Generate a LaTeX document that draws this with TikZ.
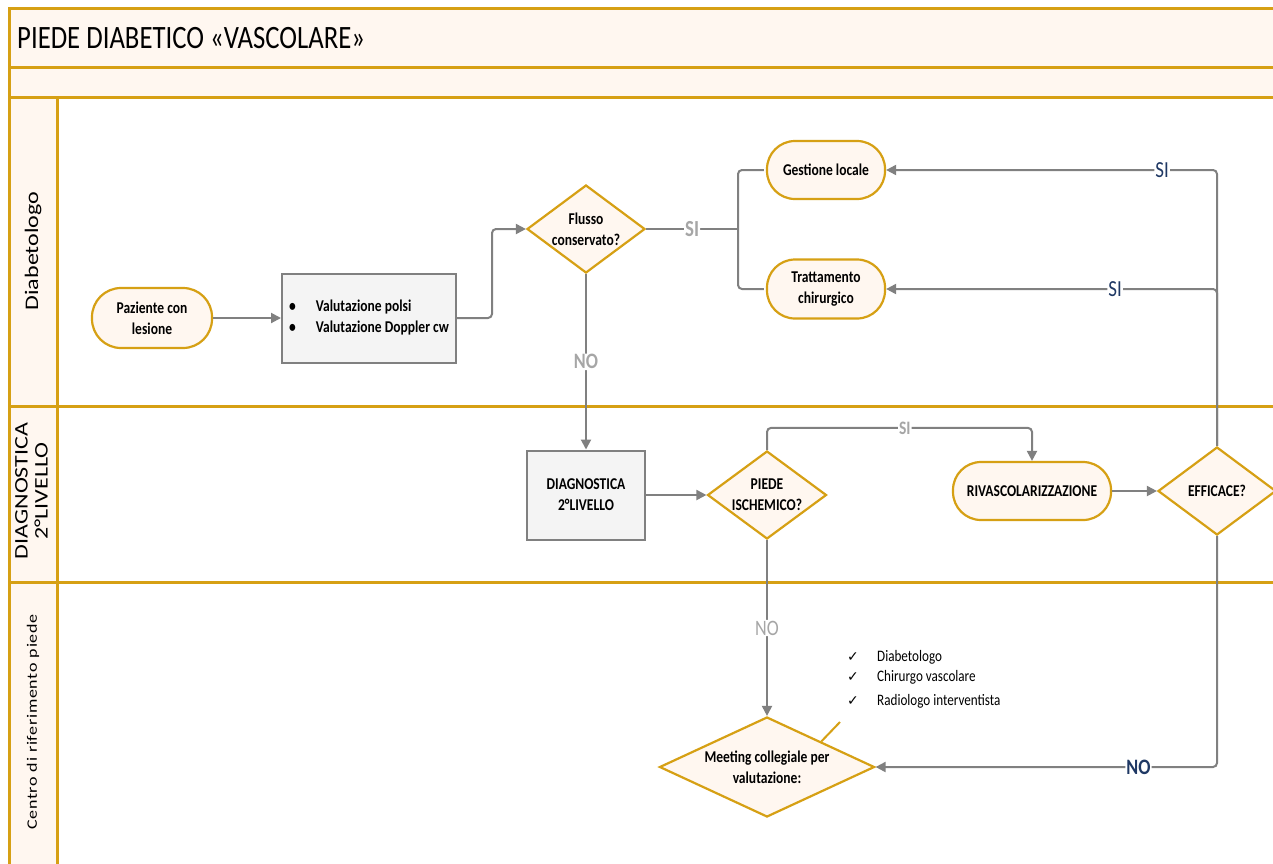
\documentclass[tikz,border=0pt]{standalone}
\usepackage{fontspec}
\setmainfont{Carlito}[FakeStretch=0.82]
\newfontfamily\plainfont{Carlito}
\newfontfamily\spacedfont{Carlito}[LetterSpace=4]
\newfontfamily\dejavu{DejaVu Sans}
\usetikzlibrary{shapes.geometric,arrows.meta}
\definecolor{gold}{RGB}{214,160,20}
\definecolor{cream}{RGB}{255,247,240}
\definecolor{boxgray}{RGB}{244,244,244}
\definecolor{linegray}{RGB}{128,128,128}
\definecolor{lblgray}{RGB}{166,166,166}
\definecolor{navy}{RGB}{31,56,100}
\begin{document}
\begin{tikzpicture}[x=1pt,y=-1pt,
  lane/.style={gold,line width=3pt},
  term/.style={draw=gold,fill=cream,line width=2.2pt,rounded corners=28pt,
    minimum width=118pt,minimum height=58pt,align=center,inner sep=0pt,
    font=\fontsize{16.5}{21}\selectfont\bfseries},
  gbox/.style={draw=linegray,fill=boxgray,line width=2pt,
    minimum width=118pt,minimum height=89pt,align=center,inner sep=0pt,
    font=\fontsize{16.5}{21}\selectfont\bfseries},
  dia/.style={diamond,draw=gold,fill=cream,line width=2.2pt,inner sep=0pt,
    align=center,font=\fontsize{16.5}{21}\selectfont\bfseries},
  conn/.style={linegray,line width=2pt,rounded corners=4pt},
  arr/.style={conn,-{Triangle[length=10pt,width=10pt]}},
  lblg/.style={fill=white,inner sep=1pt,text=lblgray,font=\fontsize{23}{23}\selectfont\bfseries},
  lbln/.style={fill=white,inner sep=1pt,text=navy,font=\fontsize{23}{23}\selectfont},
  chk/.style={anchor=base west,inner sep=0pt,font=\fontsize{16}{18}\selectfont}
]
\useasboundingbox (0,0) rectangle (1273,863);
% swimlane frame
\fill[white] (0,0) rectangle (1273,863);
\fill[cream] (9,8) rectangle (1285,97);
\fill[cream] (9,97) rectangle (57,870);
\draw[lane] (1285,8) -- (9,8) -- (9,870);
\draw[lane] (9,67) -- (1285,67);
\draw[lane] (9,97) -- (1285,97);
\draw[lane] (9,406) -- (1285,406);
\draw[lane] (9,582) -- (1285,582);
\draw[lane] (57,97) -- (57,870);
\node[anchor=base west,inner sep=0pt,font=\fontsize{32.6}{33}\selectfont] (title) at (17,48) {PIEDE DIABETICO «VASCOLARE»};
\node[rotate=90,inner sep=0pt] (l1) at (33,251) {\scalebox{1}[0.8]{\plainfont\fontsize{24}{24}\selectfont Diabetologo}};
\node[rotate=90,inner sep=0pt] (l2) at (33.5,491) {\scalebox{1}[0.8]{\plainfont\fontsize{24}{25}\selectfont\begin{tabular}{@{}c@{}}DIAGNOSTICA\\2°LIVELLO\end{tabular}}};
\node[rotate=90,inner sep=0pt] (l3) at (33,722) {\scalebox{1}[0.8]{\spacedfont\fontsize{18}{18}\selectfont Centro di riferimento piede}};

% nodes
\node[term,minimum width=120pt,minimum height=60pt,rounded corners=29pt] (paz) at (152,318) {Paziente con\\lesione};
\node[gbox,minimum width=174pt] (val) at (369,318) {\begin{tabular}{@{}l@{\hspace{20pt}}l@{}}\textbullet & Valutazione polsi\\ \textbullet & Valutazione Doppler cw\end{tabular}};
\node[dia,minimum width=118pt,minimum height=88pt,shape aspect=1.34] (flu) at (586,229) {Flusso\\conservato?};
\node[term] (gest) at (826,170) {Gestione locale};
\node[term,minimum height=59pt] (tratt) at (826,289) {Trattamento\\chirurgico};
\node[gbox] (diag) at (586,495) {DIAGNOSTICA\\2°LIVELLO};
\node[dia,minimum width=119pt,minimum height=88pt,shape aspect=1.35] (pied) at (767,495) {PIEDE\\ISCHEMICO?};
\node[term,minimum width=158pt] (riv) at (1032,491) {RIVASCOLARIZZAZIONE};
\node[dia,minimum width=118pt,minimum height=88pt,shape aspect=1.34] (eff) at (1217,491) {EFFICACE?};
\node[dia,minimum width=215pt,minimum height=100pt,shape aspect=2.15] (meet) at (767,767) {Meeting collegiale per\\valutazione:};

% checklist
\node[chk] (c1m) at (847,661) {\dejavu\fontsize{14}{16}\selectfont ✓};
\node[chk] (c1) at (877,661) {Diabetologo};
\node[chk] (c2m) at (847,681) {\dejavu\fontsize{14}{16}\selectfont ✓};
\node[chk] (c2) at (877,681) {Chirurgo vascolare};
\node[chk] (c3m) at (847,705) {\dejavu\fontsize{14}{16}\selectfont ✓};
\node[chk] (c3) at (877,705) {Radiologo interventista};
\coordinate (callout) at (840,722);
\draw[gold,line width=2pt] (meet.north east) -- (callout);

% connectors
\draw[arr] (paz.east) -- (val.west);
\draw[arr] (val.east) -- ++(35,0) |- (flu.west);
\draw[conn] (flu.east) -- node[lblg]{SI} (738,229) coordinate (j);
\draw[conn] ([xshift=-2pt]gest.west) -| (j) |- ([xshift=-2pt]tratt.west);
\draw[arr] (flu.south) -- node[lblg,font=\fontsize{22}{22}\selectfont\bfseries]{NO} (diag.north);
\draw[arr] (diag.east) -- (pied.west);
\draw[arr] (pied.north) -- ++(0,-22) -- node[lblg,font=\fontsize{19}{19}\selectfont\bfseries,pos=0.52]{SI} ++(265,0) -- (riv.north);
\draw[arr] (riv.east) -- (eff.west);
\draw[arr] (eff.north) |- node[lbln,pos=0.583]{SI} (gest.east);
\draw[arr] (eff.north) |- node[lbln,pos=0.654]{SI} (tratt.east);
\draw[arr] (eff.south) |- node[lbln,pos=0.615,font=\fontsize{22}{22}\selectfont\bfseries]{NO} (meet.east);
\draw[arr] (pied.south) -- node[lblg,font=\fontsize{22}{22}\selectfont]{NO} (meet.north);
\end{tikzpicture}
\end{document}
